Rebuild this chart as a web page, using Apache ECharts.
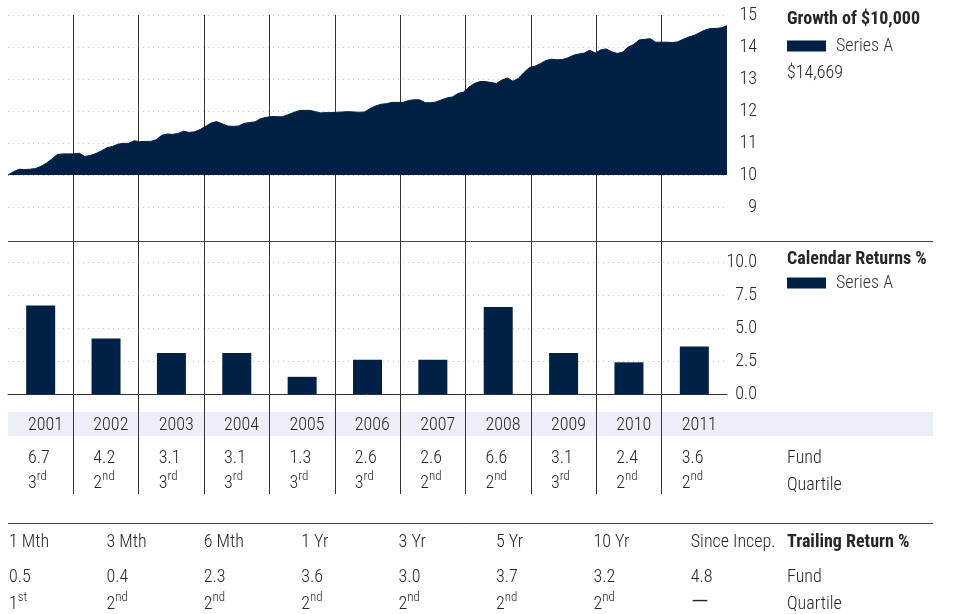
<!DOCTYPE html>
<html>
<head>
<meta charset="utf-8">
<script src="https://cdn.jsdelivr.net/npm/echarts@6/dist/echarts.min.js"></script>
<style>
  html, body { margin: 0; padding: 0; background: #ffffff; }
  #chart { width: 953px; height: 614px; }
</style>
</head>
<body>
<div id="chart"></div>
<script>
// ---- data ----
const years = ['2001', '2002', '2003', '2004', '2005', '2006', '2007', '2008', '2009', '2010', '2011'];

// Month-end value of $10,000 invested (thousands), Jan 2001 .. Dec 2011
const growth = [
  10.00, 10.10, 10.18, 10.17, 10.18, 10.20, 10.27, 10.37, 10.50, 10.64, 10.66, 10.66,
  10.66, 10.68, 10.58, 10.61, 10.67, 10.75, 10.85, 10.89, 10.96, 10.99, 10.99, 11.07,
  11.04, 11.05, 11.05, 11.10, 11.24, 11.28, 11.27, 11.30, 11.37, 11.33, 11.35, 11.42,
  11.52, 11.62, 11.67, 11.60, 11.53, 11.52, 11.53, 11.61, 11.64, 11.66, 11.76, 11.80,
  11.83, 11.82, 11.82, 11.88, 11.95, 12.01, 12.02, 12.02, 11.98, 11.94, 11.95, 11.95,
  11.96, 11.97, 11.98, 11.97, 11.96, 11.97, 12.08, 12.16, 12.21, 12.23, 12.27, 12.27,
  12.27, 12.33, 12.35, 12.35, 12.26, 12.26, 12.28, 12.35, 12.41, 12.44, 12.55, 12.59,
  12.75, 12.86, 12.92, 12.92, 12.89, 12.86, 12.97, 13.03, 12.93, 13.02, 13.20, 13.36,
  13.40, 13.48, 13.58, 13.62, 13.60, 13.61, 13.66, 13.74, 13.78, 13.81, 13.90, 13.81,
  13.91, 13.94, 13.85, 13.80, 13.84, 14.00, 14.08, 14.22, 14.24, 14.26, 14.15, 14.15,
  14.15, 14.14, 14.16, 14.24, 14.31, 14.36, 14.45, 14.53, 14.58, 14.58, 14.60, 14.669
];

const calendarReturns = [6.7, 4.2, 3.1, 3.1, 1.3, 2.6, 2.6, 6.6, 3.1, 2.4, 3.6];
const calendarQuartiles = ['3rd', '2nd', '3rd', '3rd', '3rd', '3rd', '2nd', '2nd', '3rd', '2nd', '2nd'];

const growthTicks = [8, 15, 1];        // min, max, step
const returnTicks = [0, 10, 2.5];

const trailingPeriods = ['1 Mth', '3 Mth', '6 Mth', '1 Yr', '3 Yr', '5 Yr', '10 Yr', 'Since Incep.'];
const trailingReturns = [0.5, 0.4, 2.3, 3.6, 3.0, 3.7, 3.2, 4.8];
const trailingQuartiles = ['1st', '2nd', '2nd', '2nd', '2nd', '2nd', '2nd', '—'];

// ---- styling ----
const FONT = "'Roboto Condensed', 'Liberation Sans', sans-serif";
const NAVY = '#002145';
const TEXT = '#262626';
const FS = 18;
const FW = 300;
const DOTS = { color: '#c4c4c4', width: 1, type: [1, 4] };

const months = [];
years.forEach(y => { for (let m = 1; m <= 12; m++) months.push(y + '-' + String(m).padStart(2, '0')); });
const yearEdges = years.concat(['']);

function quartileRich(q) {
  if (q === '—') return '{dash|—}';
  return '{d|' + q.charAt(0) + '}{s|' + q.slice(1) + '}';
}
const quartileStyles = {
  d: { fontSize: FS, fontWeight: FW, lineHeight: 25, fontFamily: FONT, color: TEXT },
  s: { fontSize: 13, fontWeight: FW, lineHeight: 11, fontFamily: FONT, color: TEXT, verticalAlign: 'top' },
  v: { fontSize: FS, fontWeight: FW, lineHeight: 25, fontFamily: FONT, color: TEXT },
  dash: { fontSize: 27, fontWeight: FW, lineHeight: 25, fontFamily: FONT, color: TEXT }
};

const chart = echarts.init(document.getElementById('chart'), null, { renderer: 'canvas' });

// left/right edges of the plot columns
const PL = 8, PR = 226;

function label(text, x, y, bold) {
  return { type: 'text', x: x, y: y, silent: true,
    style: { text: text, font: (bold ? 'bold ' : FW + ' ') + FS + 'px ' + FONT, fill: TEXT, verticalAlign: 'middle' } };
}

const graphics = [
  // year band
  { type: 'rect', z: -1, silent: true, shape: { x: 8, y: 412, width: 925, height: 24 }, style: { fill: '#ebeff8' } },
  // separators
  { type: 'line', silent: true, shape: { x1: 8, y1: 241.5, x2: 933, y2: 241.5 }, style: { stroke: '#444', lineWidth: 1 } },
  { type: 'line', silent: true, shape: { x1: 8, y1: 523.5, x2: 933, y2: 523.5 }, style: { stroke: '#444', lineWidth: 1 } },
  // growth end value
  label('$' + Math.round(growth[growth.length - 1] * 1000).toLocaleString('en-US'), 787, 73),
  // calendar table row names
  label('Fund', 787, 458),
  label('Quartile', 787, 485),
  // trailing table row names
  label('Trailing Return %', 787, 542, true),
  label('Fund', 787, 577),
  label('Quartile', 787, 604)
];

const TCOL = 97.4;
trailingPeriods.forEach((p, i) => {
  const x = 9 + i * TCOL;
  graphics.push(label(p, x, 542));
  graphics.push(label(trailingReturns[i].toFixed(1), x, 577));
  graphics.push({ type: 'text', x: x, y: 604, silent: true,
    style: { text: quartileRich(trailingQuartiles[i]), rich: quartileStyles, verticalAlign: 'middle', fill: TEXT } });
});

const option = {
  animation: false,
  backgroundColor: '#ffffff',
  textStyle: { fontFamily: FONT, color: TEXT, fontWeight: FW },
  title: [
    { text: 'Growth of $10,000', left: 787, top: 10, padding: 0, textStyle: { fontFamily: FONT, fontSize: FS, fontWeight: 'bold', color: TEXT } },
    { text: 'Calendar Returns %', left: 787, top: 250, padding: 0, textStyle: { fontFamily: FONT, fontSize: FS, fontWeight: 'bold', color: TEXT } }
  ],
  legend: [
    { left: 787, top: 37, padding: 0, icon: 'rect', itemWidth: 39, itemHeight: 11, selectedMode: false, data: ['Series A'],
      textStyle: { fontFamily: FONT, fontSize: FS, fontWeight: FW, color: '#333', padding: [0, 0, 0, 5] } },
    { left: 787, top: 274, padding: 0, icon: 'rect', itemWidth: 39, itemHeight: 11, selectedMode: false, data: ['Series A'],
      textStyle: { fontFamily: FONT, fontSize: FS, fontWeight: FW, color: '#333', padding: [0, 0, 0, 5] } }
  ],
  grid: [
    { left: PL, right: PR, top: 15, height: 224 },
    { left: PL, right: PR, top: 262, height: 132 },
    { left: PL, right: PR, top: 15, height: 479 }
  ],
  xAxis: [
    { type: 'category', gridIndex: 0, data: months, boundaryGap: false, show: false },
    { type: 'category', gridIndex: 1, data: years, boundaryGap: true, position: 'bottom',
      axisLine: { show: true, lineStyle: { color: '#333', width: 1 } }, axisTick: { show: false }, axisLabel: { show: false }, splitLine: { show: false } },
    { type: 'category', gridIndex: 1, data: yearEdges, boundaryGap: false, position: 'bottom',
      axisLine: { show: false }, axisTick: { show: false }, splitLine: { show: false },
      axisLabel: { interval: 0, align: 'left', margin: 18, padding: [0, 0, 0, 20], fontSize: FS, fontWeight: FW, lineHeight: 26, color: TEXT, fontFamily: FONT } },
    { type: 'category', gridIndex: 1, data: yearEdges, boundaryGap: false, position: 'bottom',
      axisLine: { show: false }, axisTick: { show: false }, splitLine: { show: false },
      axisLabel: { interval: 0, align: 'left', margin: 51.5, padding: [0, 0, 0, 20], rich: quartileStyles,
        formatter: (val, idx) => idx < calendarReturns.length
          ? '{v|' + calendarReturns[idx].toFixed(1) + '}\n' + quartileRich(calendarQuartiles[idx]) : '' } },
    { type: 'value', gridIndex: 2, min: 0, max: years.length, interval: 1,
      axisLine: { show: false }, axisTick: { show: false }, axisLabel: { show: false },
      splitLine: { show: true, showMinLine: false, showMaxLine: false, lineStyle: { color: '#333', width: 1 } } }
  ],
  yAxis: [
    { type: 'value', gridIndex: 0, position: 'right', min: growthTicks[0], max: growthTicks[1], interval: growthTicks[2],
      axisLine: { show: false }, axisTick: { show: false },
      axisLabel: { showMinLabel: false, align: 'right', margin: 30, fontSize: FS, fontWeight: FW, color: TEXT, fontFamily: FONT },
      splitLine: { show: true, showMinLine: false, lineStyle: DOTS } },
    { type: 'value', gridIndex: 1, position: 'right', min: returnTicks[0], max: returnTicks[1], interval: returnTicks[2],
      axisLine: { show: false }, axisTick: { show: false },
      axisLabel: { align: 'right', margin: 30, fontSize: FS, fontWeight: FW, color: TEXT, fontFamily: FONT, formatter: v => v.toFixed(1) },
      splitLine: { show: true, showMinLine: false, lineStyle: DOTS } },
    { type: 'value', gridIndex: 2, min: 0, max: 1, show: false }
  ],
  series: [
    { name: 'Series A', type: 'line', xAxisIndex: 0, yAxisIndex: 0, data: growth,
      symbol: 'none', color: NAVY, lineStyle: { color: NAVY, width: 1 },
      areaStyle: { color: NAVY, opacity: 1, origin: 10 }, z: 3 },
    { name: 'Series A', type: 'bar', xAxisIndex: 1, yAxisIndex: 1, data: calendarReturns,
      barWidth: 29, itemStyle: { color: NAVY }, z: 3 }
  ],
  graphic: graphics
};

chart.setOption(option);
</script>
</body>
</html>
